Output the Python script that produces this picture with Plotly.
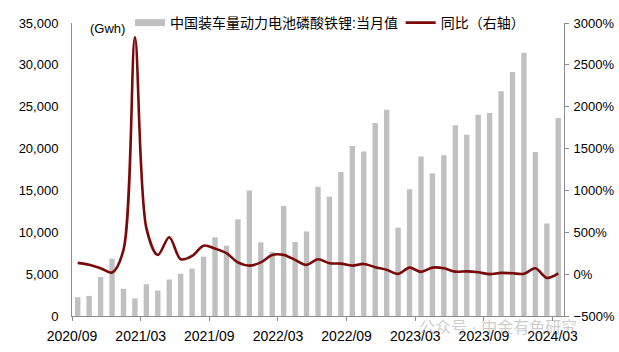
import plotly.graph_objects as go

months = ["2020/09","2020/10","2020/11","2020/12","2021/01","2021/02","2021/03","2021/04","2021/05","2021/06",
          "2021/07","2021/08","2021/09","2021/10","2021/11","2021/12","2022/01","2022/02","2022/03","2022/04",
          "2022/05","2022/06","2022/07","2022/08","2022/09","2022/10","2022/11","2022/12","2023/01","2023/02",
          "2023/03","2023/04","2023/05","2023/06","2023/07","2023/08","2023/09","2023/10","2023/11","2023/12",
          "2024/01","2024/02","2024/03"]

lfp_gwh = [2250, 2400, 4650, 6850, 3250, 2100, 3800, 3050, 4350, 5050,
           5650, 7100, 9400, 8400, 11550, 15000, 8800, 7650, 13150, 8850,
           10100, 15450, 14250, 17200, 20300, 19650, 23050, 24650, 10550, 15150,
           19050, 17050, 19200, 22800, 21650, 24050, 24250, 26850, 29150, 31450,
           19600, 11050, 23650]

yoy_pct = [135, 111, 71, 19, 290, 2830, 550, 230, 440, 178,
           218, 340, 305, 250, 140, 102, 140, 230, 230, 170,
           111, 178, 131, 126, 102, 122, 83, 51, 3, 78,
           27, 78, 70, 30, 33, 22, 0, 15, 10, 5,
           70, -45, 8]

tick_labels = ["2020/09","2021/03","2021/09","2022/03","2022/09","2023/03","2023/09","2024/03"]

bar_name = "中国装车量动力电池磷酸铁锂:当月值"
line_name = "同比（右轴）"

idx = list(range(len(months)))
tickvals = [months.index(t) - 0.5 for t in tick_labels]

FONT = "Liberation Sans, Arial, Noto Sans CJK SC, sans-serif"
BAR_COLOR = "#C0C0C0"
LINE_COLOR = "#7A0A0A"
AXIS_COLOR = "#8C8C8C"

fig = go.Figure()
fig.add_trace(go.Bar(x=idx, y=lfp_gwh, marker_color=BAR_COLOR, marker_line_width=0,
                     showlegend=False, name=bar_name))
# legend proxy for the bar series (wide flat swatch)
fig.add_trace(go.Scatter(x=[None], y=[None], mode="lines", name=bar_name,
                         line=dict(color=BAR_COLOR, width=7), legend="legend"))
fig.add_trace(go.Scatter(x=idx, y=yoy_pct, mode="lines", name=line_name, yaxis="y2",
                         line=dict(color=LINE_COLOR, width=2.6, shape="spline", smoothing=0.9),
                         legend="legend2"))

fig.update_layout(
    width=619, height=352,
    margin=dict(l=72, r=55, t=23, b=35.5, autoexpand=False),
    paper_bgcolor="white", plot_bgcolor="white",
    font=dict(family=FONT, size=13, color="#000000"),
    bargap=0.53,
    xaxis=dict(range=[-0.5, len(months) - 0.5], tickmode="array", tickvals=tickvals,
               ticktext=tick_labels, showgrid=False, zeroline=False, showline=True,
               linecolor=AXIS_COLOR, linewidth=1, ticks="outside", ticklen=4,
               tickcolor=AXIS_COLOR, tickfont=dict(size=14), ticklabelstandoff=3,
               automargin=False),
    yaxis=dict(range=[0, 35000], dtick=5000, tickformat=",", showgrid=False, zeroline=False,
               showline=True, linecolor=AXIS_COLOR, linewidth=1, ticks="",
               tickfont=dict(size=13), ticklabelstandoff=10, automargin=False),
    yaxis2=dict(range=[-500, 3000], dtick=500, ticksuffix="%", overlaying="y", side="right",
                showgrid=False, zeroline=False, showline=True, linecolor=AXIS_COLOR, linewidth=1,
                ticks="outside", ticklen=4, tickcolor=AXIS_COLOR, tickfont=dict(size=13),
                ticklabelstandoff=2, automargin=False),
    legend=dict(orientation="h", x=0.118, y=1.0, xanchor="left", yanchor="middle",
                bgcolor="rgba(0,0,0,0)", font=dict(size=14), itemwidth=30),
    legend2=dict(orientation="h", x=0.668, y=1.0, xanchor="left", yanchor="middle",
                 bgcolor="rgba(0,0,0,0)", font=dict(size=14), itemwidth=30),
    annotations=[
        dict(text="(Gwh)", xref="paper", yref="paper", x=0.072, y=0.98, showarrow=False,
             xanchor="center", yanchor="middle", font=dict(size=13)),
        dict(text="公众号 · 中金有色研究", xref="paper", yref="paper", x=0.865, y=-0.04,
             showarrow=False, xanchor="center", yanchor="middle",
             font=dict(size=16, color="rgba(140,140,140,0.45)")),
    ],
)

fig.write_html("out.html")
